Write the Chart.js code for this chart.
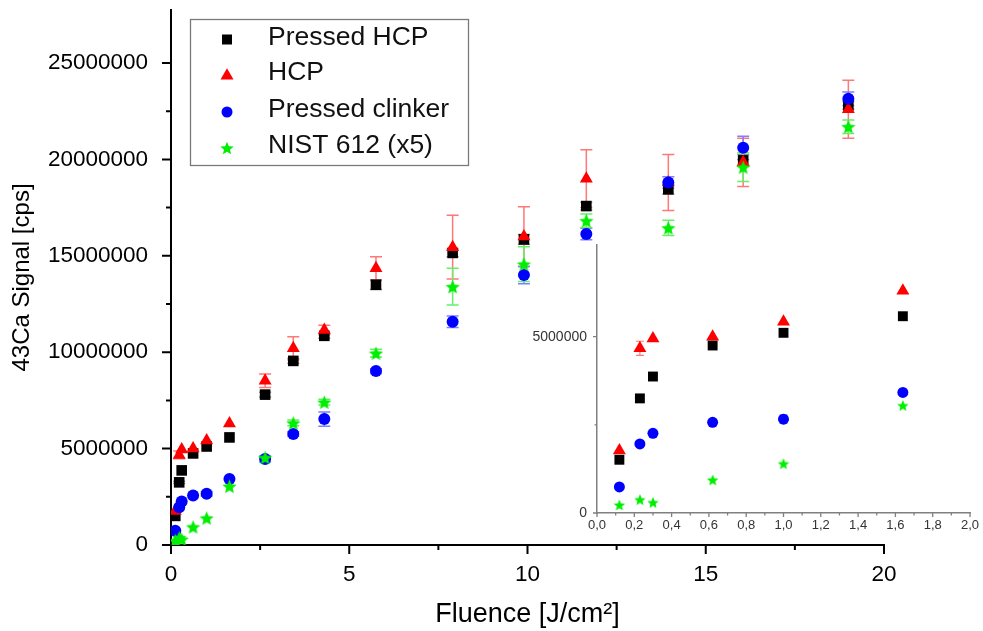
<!DOCTYPE html>
<html><head><meta charset="utf-8">
<script src="https://cdn.jsdelivr.net/npm/chart.js@4.4.1/dist/chart.umd.min.js"></script>
<style>
html,body{margin:0;padding:0;background:#fff;}
#wrap{position:relative;width:983px;height:631px;overflow:hidden;}
#main{position:absolute;left:0;top:0;}
#inset{position:absolute;left:500px;top:230px;}
</style></head><body>
<div id="wrap">
<canvas id="main" width="983" height="631"></canvas>
<canvas id="inset" width="483" height="320"></canvas>
</div>
<script>
// ---------------- data ----------------
const seriesNames = ['Pressed HCP', 'HCP', 'Pressed clinker', 'NIST 612 (x5)'];
const fluence = [0.12, 0.23, 0.30, 0.62, 1.0, 1.64, 2.64, 3.43, 4.3, 5.75, 7.9, 9.9, 11.65, 13.95, 16.05, 19.0];
const pressedHCP = [1510000, 3250000, 3870000, 4750000, 5110000, 5580000, 7800000, 9550000, 10850000, 13500000, 15150000, 15850000, 17580000, 18450000, 19950000, 22800000];
const hcp = [1770000, 4670000, 4950000, 5000000, 5420000, 6300000, 8520000, 10200000, 11150000, 14350000, 15450000, 16000000, 19000000, 18800000, 19850000, 22600000];
const pressedClinker = [740000, 1960000, 2260000, 2570000, 2660000, 3420000, 4460000, 5760000, 6530000, 9020000, 11580000, 14000000, 16130000, 18800000, 20600000, 23150000];
const nist612 = [230000, 380000, 300000, 940000, 1400000, 3050000, 4530000, 6330000, 7410000, 9950000, 13400000, 14570000, 16820000, 16450000, 19600000, 21700000];
const errPressedHCP = [0, 60000, 0, 0, 0, 0, 120000, 120000, 120000, 250000, 200000, 250000, 200000, 250000, 300000, 200000];
const errHCP = [0, 200000, 0, 0, 0, 0, 350000, 600000, 250000, 600000, 1650000, 1550000, 1500000, 1450000, 1250000, 1500000];
const errPressedClinker = [0, 0, 0, 0, 120000, 0, 150000, 120000, 370000, 120000, 300000, 450000, 300000, 300000, 600000, 350000];
const errNist612 = [0, 0, 0, 0, 0, 0, 0, 150000, 150000, 200000, 950000, 900000, 350000, 400000, 750000, 350000];

const xMajorTicks = [0, 5, 10, 15, 20];
const xMinorTicks = [2.5, 7.5, 12.5, 17.5];
const yMajorTicks = [0, 5000000, 10000000, 15000000, 20000000, 25000000];
const yMinorTicks = [2500000, 7500000, 12500000, 17500000, 22500000];
const insetXMajorTicks = [0, 0.2, 0.4, 0.6, 0.8, 1.0, 1.2, 1.4, 1.6, 1.8, 2.0];
const insetXMinorTicks = [0.1, 0.3, 0.5, 0.7, 0.9, 1.1, 1.3, 1.5, 1.7, 1.9];
const insetYMajorTicks = [0, 5000000];
const insetYMinorTicks = [2500000];

// ---------------- styles ----------------
const FONT = "'Liberation Sans', Arial, Helvetica, sans-serif";
Chart.defaults.font.family = FONT;
const colors = ['#000000', '#ff0000', '#0000ff', '#00ee00'];
const errColors = ['#8c8c8c', '#ff7777', '#7f7fff', '#66f066'];
const styles = ['rect', 'triangle', 'circle', 'star'];

function starCanvas(size, color) {
  const c = document.createElement('canvas');
  c.width = size; c.height = size;
  const g = c.getContext('2d');
  const cx = size / 2, cy = size / 2 + size * 0.05, R = size / 2, r = R * 0.45;
  g.beginPath();
  for (let k = 0; k < 10; k++) {
    const a = -Math.PI / 2 + k * Math.PI / 5;
    const rad = k % 2 ? r : R;
    g.lineTo(cx + rad * Math.cos(a), cy + rad * Math.sin(a));
  }
  g.closePath(); g.fillStyle = color; g.fill();
  return c;
}

const allValues = [pressedHCP, hcp, pressedClinker, nist612];
const allErrors = [errPressedHCP, errHCP, errPressedClinker, errNist612];

function buildDatasets(radii, starSize, maxX) {
  return allValues.map((vals, i) => {
    const pts = [], errs = [];
    fluence.forEach((x, j) => { if (x <= maxX) { pts.push({x: x, y: vals[j]}); errs.push(allErrors[i][j]); } });
    return {
      label: seriesNames[i],
      data: pts,
      errors: errs,
      errorColor: errColors[i],
      showLine: false,
      pointStyle: styles[i] === 'star' ? starCanvas(starSize, colors[i]) : styles[i],
      pointRadius: radii[i],
      pointBackgroundColor: colors[i],
      pointBorderColor: colors[i],
      pointBorderWidth: 0,
      order: 4 - i
    };
  });
}

function noPad(s) { s.paddingTop = 0; s.paddingBottom = 0; s.paddingLeft = 0; s.paddingRight = 0; }

// ---------------- plugins ----------------
const errorBarPlugin = {
  id: 'errorBars',
  beforeDatasetsDraw(chart, args, opts) {
    const ctx = chart.ctx, xS = chart.scales.x, yS = chart.scales.y;
    ctx.save();
    ctx.lineWidth = opts.lineWidth;
    chart.data.datasets.forEach(ds => {
      ctx.strokeStyle = ds.errorColor;
      ds.data.forEach((p, j) => {
        const e = ds.errors[j];
        if (!e) return;
        const px = xS.getPixelForValue(p.x);
        const yTop = yS.getPixelForValue(p.y + e), yBot = yS.getPixelForValue(p.y - e);
        ctx.beginPath();
        ctx.moveTo(px, yBot); ctx.lineTo(px, yTop);
        ctx.moveTo(px - opts.cap, yTop); ctx.lineTo(px + opts.cap, yTop);
        ctx.moveTo(px - opts.cap, yBot); ctx.lineTo(px + opts.cap, yBot);
        ctx.stroke();
      });
    });
    ctx.restore();
  }
};

const tickMarkPlugin = {
  id: 'tickMarks',
  afterDraw(chart, args, o) {
    const ctx = chart.ctx, xS = chart.scales.x, yS = chart.scales.y;
    const b = chart.chartArea.bottom, l = chart.chartArea.left;
    ctx.save();
    ctx.strokeStyle = o.color; ctx.lineWidth = o.width;
    ctx.beginPath();
    o.xMajor.forEach(v => { const p = xS.getPixelForValue(v); ctx.moveTo(p, b); ctx.lineTo(p, b + o.majorLen); });
    o.xMinor.forEach(v => { const p = xS.getPixelForValue(v); ctx.moveTo(p, b); ctx.lineTo(p, b + o.minorLen); });
    o.yMajor.forEach(v => { const p = yS.getPixelForValue(v); ctx.moveTo(l, p); ctx.lineTo(l - o.majorLen, p); });
    o.yMinor.forEach(v => { const p = yS.getPixelForValue(v); ctx.moveTo(l, p); ctx.lineTo(l - o.minorLen, p); });
    ctx.stroke();
    ctx.restore();
  }
};

function drawMarker(ctx, style, color, x, y, size) {
  ctx.fillStyle = color;
  ctx.beginPath();
  if (style === 'rect') {
    ctx.rect(x - size / 2, y - size / 2, size, size);
  } else if (style === 'triangle') {
    const h = size * 0.87;
    ctx.moveTo(x, y - h * 0.6); ctx.lineTo(x + size / 2, y + h * 0.4); ctx.lineTo(x - size / 2, y + h * 0.4); ctx.closePath();
  } else if (style === 'circle') {
    ctx.arc(x, y, size / 2, 0, Math.PI * 2);
  } else {
    const R = size / 2, r = R * 0.45;
    for (let k = 0; k < 10; k++) {
      const a = -Math.PI / 2 + k * Math.PI / 5, rad = k % 2 ? r : R;
      ctx.lineTo(x + rad * Math.cos(a), y + size * 0.05 + rad * Math.sin(a));
    }
    ctx.closePath();
  }
  ctx.fill();
}

const boxLegendPlugin = {
  id: 'boxLegend',
  afterDraw(chart, args, o) {
    const ctx = chart.ctx;
    ctx.save();
    ctx.strokeStyle = '#7a7a7a'; ctx.lineWidth = 1.3;
    ctx.strokeRect(o.x, o.y, o.w, o.h);
    ctx.font = o.fontSize + 'px ' + FONT;
    ctx.textBaseline = 'middle'; ctx.textAlign = 'left';
    seriesNames.forEach((name, i) => {
      const cy = o.rows[i];
      drawMarker(ctx, styles[i], colors[i], o.markerX, cy + 2, o.markerSizes[i]);
      ctx.fillStyle = '#111';
      ctx.fillText(name, o.textX, cy);
    });
    ctx.restore();
  }
};

// ---------------- main chart ----------------
new Chart(document.getElementById('main'), {
  type: 'scatter',
  data: { datasets: buildDatasets([7.5, 7.5, 6, 7], 15, 100) },
  options: {
    responsive: false, animation: false, events: [],
    layout: { padding: { top: 10, right: 99, left: 0, bottom: 0 } },
    plugins: {
      legend: { display: false }, tooltip: { enabled: false },
      errorBars: { lineWidth: 1.5, cap: 6 },
      tickMarks: { color: '#000', width: 2, majorLen: 9, minorLen: 5,
        xMajor: xMajorTicks, xMinor: xMinorTicks, yMajor: yMajorTicks, yMinor: yMinorTicks },
      boxLegend: { x: 190.5, y: 19.5, w: 278, h: 146, rows: [37.5, 73, 110, 146], markerX: 227, textX: 268, fontSize: 26.5,
        markerSizes: [10, 13, 11, 14] }
    },
    scales: {
      x: {
        type: 'linear', position: 'bottom', min: 0, max: 20,
        afterFit: s => { s.height = 86; noPad(s); },
        afterBuildTicks: s => { s.ticks = xMajorTicks.map(v => ({ value: v })); },
        ticks: { font: { size: 22.5 }, color: '#000', padding: 16, autoSkip: false, maxRotation: 0, callback: v => String(v) },
        grid: { display: false, drawTicks: false },
        border: { display: true, color: '#000', width: 2 },
        title: { display: true, text: 'Fluence [J/cm²]', font: { size: 27 }, color: '#000', padding: { top: 0, bottom: 0 } }
      },
      y: {
        type: 'linear', position: 'left', min: 0, max: 27750000,
        afterFit: s => { s.width = 171; noPad(s); },
        afterBuildTicks: s => { s.ticks = yMajorTicks.map(v => ({ value: v })); },
        ticks: { font: { size: 22.5 }, color: '#000', padding: 23, autoSkip: false, callback: v => String(v) },
        grid: { display: false, drawTicks: false },
        border: { display: true, color: '#000', width: 2 },
        title: { display: true, text: '43Ca Signal [cps]', font: { size: 24 }, color: '#000', padding: { top: 8, bottom: 0 } }
      }
    }
  },
  plugins: [errorBarPlugin, tickMarkPlugin, boxLegendPlugin]
});

// ---------------- inset chart ----------------
new Chart(document.getElementById('inset'), {
  type: 'scatter',
  data: { datasets: buildDatasets([7, 7.5, 5.5, 6.5], 12, 2.0) },
  options: {
    responsive: false, animation: false, events: [],
    layout: { padding: { top: 15, right: 13, left: 0, bottom: 0 } },
    plugins: {
      legend: { display: false }, tooltip: { enabled: false },
      errorBars: { lineWidth: 1.2, cap: 4 },
      tickMarks: { color: '#808080', width: 1.3, majorLen: 4, minorLen: 2.5,
        xMajor: insetXMajorTicks, xMinor: insetXMinorTicks, yMajor: insetYMajorTicks, yMinor: insetYMinorTicks }
    },
    scales: {
      x: {
        type: 'linear', position: 'bottom', min: 0, max: 2.0,
        afterFit: s => { s.height = 37; noPad(s); },
        afterBuildTicks: s => { s.ticks = insetXMajorTicks.map(v => ({ value: v })); },
        ticks: { font: { size: 13 }, color: '#333', padding: 5, autoSkip: false, maxRotation: 0,
          callback: v => Number(v).toFixed(1).replace('.', ',') },
        grid: { display: false, drawTicks: false },
        border: { display: true, color: '#808080', width: 1.5 }
      },
      y: {
        type: 'linear', position: 'left', min: 0, max: 7600000,
        afterFit: s => { s.width = 97; noPad(s); },
        afterBuildTicks: s => { s.ticks = insetYMajorTicks.map(v => ({ value: v })); },
        ticks: { font: { size: 14 }, color: '#333', padding: 10, autoSkip: false, callback: v => String(v) },
        grid: { display: false, drawTicks: false },
        border: { display: true, color: '#808080', width: 1.5 }
      }
    }
  },
  plugins: [errorBarPlugin, tickMarkPlugin]
});
</script>
</body></html>
